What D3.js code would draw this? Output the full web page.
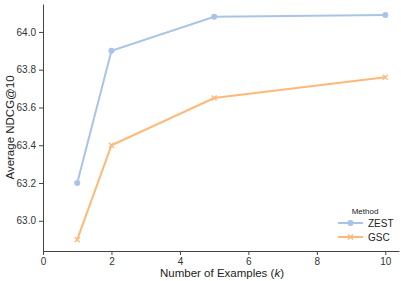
<!DOCTYPE html>
<html>
<head>
<meta charset="utf-8">
<script src="https://cdn.jsdelivr.net/npm/d3@7"></script>
<style>
body { margin: 0; background: #fff; }
text { font-family: "Liberation Sans", Arial, sans-serif; }
</style>
</head>
<body>
<svg id="chart" width="401" height="281"></svg>
<script>
const examples = [1, 2, 5, 10];
const zest = [63.2, 63.9, 64.08, 64.09];
const gsc = [62.9, 63.4, 63.65, 63.76];
const xTicks = [0, 2, 4, 6, 8, 10];
const yTicks = [63.0, 63.2, 63.4, 63.6, 63.8, 64.0];
const seriesNames = ["ZEST", "GSC"];
const colors = ["#a9c4e8", "#ffb877"];

const svg = d3.select("#chart");
const margin = { left: 43, top: 4, right: 2, bottom: 30 };
const width = 401, height = 281;

const x = d3.scaleLinear().domain([0, 10.4]).range([margin.left, width - margin.right]);
const y = d3.scaleLinear().domain([62.84, 64.148]).range([height - margin.bottom, margin.top]);

const xAxis = svg.append("g")
    .attr("transform", `translate(0, ${height - margin.bottom})`)
    .call(d3.axisBottom(x).tickValues(xTicks).tickFormat(d3.format("d")).tickSize(4).tickSizeOuter(0));
const yAxis = svg.append("g")
    .attr("transform", `translate(${margin.left}, 0)`)
    .call(d3.axisLeft(y).tickValues(yTicks).tickFormat(d3.format(".1f")).tickSize(4).tickSizeOuter(0));

[xAxis, yAxis].forEach(a => {
    a.selectAll("path, line").attr("stroke", "#444").attr("stroke-width", 1);
    a.selectAll("text").attr("fill", "#333").style("font-size", "10px");
});
xAxis.selectAll("text").attr("dy", "0.71em").attr("y", 7);

svg.append("text")
    .attr("x", 222)
    .attr("y", 277)
    .attr("text-anchor", "middle")
    .style("font-size", "11.5px")
    .attr("fill", "#222")
    .html("Number of Examples (<tspan font-style='italic'>k</tspan>)");

svg.append("text")
    .attr("transform", `translate(14, ${(margin.top + height - margin.bottom) / 2}) rotate(-90)`)
    .attr("text-anchor", "middle")
    .style("font-size", "11.5px")
    .attr("fill", "#222")
    .text("Average NDCG@10");

const data = [zest, gsc];
const line = d3.line().x((d, i) => x(examples[i])).y(d => y(d));

data.forEach((vals, s) => {
    svg.append("path")
        .datum(vals)
        .attr("fill", "none")
        .attr("stroke", colors[s])
        .attr("stroke-width", 2)
        .attr("d", line);
    if (s === 0) {
        svg.selectAll(null).data(vals).join("circle")
            .attr("cx", (d, i) => x(examples[i]))
            .attr("cy", d => y(d))
            .attr("r", 3)
            .attr("fill", colors[s]);
    } else {
        svg.selectAll(null).data(vals).join("path")
            .attr("transform", (d, i) => `translate(${x(examples[i])}, ${y(d)})`)
            .attr("d", "M-2.5,-2.5L2.5,2.5M-2.5,2.5L2.5,-2.5")
            .attr("stroke", colors[s])
            .attr("stroke-width", 1.3);
    }
});

// legend
const legend = svg.append("g").attr("transform", "translate(338, 223)");
legend.append("text")
    .attr("x", 27).attr("y", -9)
    .attr("text-anchor", "middle")
    .style("font-size", "8px").attr("fill", "#222")
    .text("Method");
seriesNames.forEach((name, i) => {
    const g = legend.append("g").attr("transform", `translate(0, ${i * 14})`);
    g.append("line").attr("x1", 0).attr("x2", 25).attr("y1", 0).attr("y2", 0)
        .attr("stroke", colors[i]).attr("stroke-width", 2);
    if (i === 0) {
        g.append("circle").attr("cx", 12.5).attr("cy", 0).attr("r", 3).attr("fill", colors[i]);
    } else {
        g.append("path").attr("transform", "translate(12.5,0)")
            .attr("d", "M-2.5,-2.5L2.5,2.5M-2.5,2.5L2.5,-2.5")
            .attr("stroke", colors[i]).attr("stroke-width", 1.3);
    }
    g.append("text").attr("x", 30).attr("y", 0).attr("dy", "0.35em")
        .style("font-size", "10px").attr("fill", "#222").text(name);
});
</script>
</body>
</html>
